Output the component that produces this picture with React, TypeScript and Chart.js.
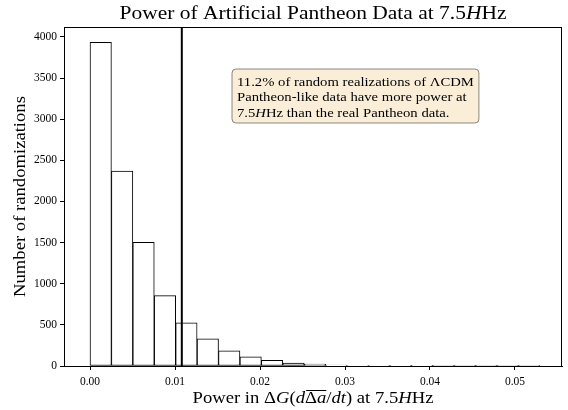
import React, { useEffect, useRef } from "react";
import { Chart, registerables } from "chart.js";

Chart.register(...registerables);

// ---- data ----
const binStart = 0;
const binWidth = 0.00252;
const counts = [3934, 2370, 1502, 855, 525, 330, 185, 112, 68, 37, 22, 11, 6, 4, 3, 2, 1, 1, 1, 1, 1];
const xTicks = [0, 0.01, 0.02, 0.03, 0.04, 0.05];
const yTicks = [0, 500, 1000, 1500, 2000, 2500, 3000, 3500, 4000];
const realPower = 0.0108;
const xRange = [-0.00306, 0.05553];
const yRange = [0, 4121];

const titleParts = [
  { t: "Power of Artificial Pantheon Data at 7.5" },
  { t: "H", i: true },
  { t: "Hz" },
];
const xLabelParts = [
  { t: "Power in \u0394" },
  { t: "G", i: true },
  { t: "(" },
  { t: "d", i: true },
  { t: "\u0394", o: true },
  { t: "a", i: true, o: true },
  { t: "/" },
  { t: "dt", i: true },
  { t: ")" },
  { t: " at 7.5" },
  { t: "H", i: true },
  { t: "Hz" },
];
const yLabel = "Number of randomizations";
const noteLines = [
  [{ t: "11.2% of random realizations of \u039BCDM" }],
  [{ t: "Pantheon-like data have more power at" }],
  [{ t: "7.5" }, { t: "H", i: true }, { t: "Hz than the real Pantheon data." }],
];

const FAMILY = "'Liberation Serif', 'DejaVu Serif', serif";
const HS = 1.13; // horizontal stretch to mimic Computer Modern widths

type Part = { t: string; i?: boolean; o?: boolean };

function font(size: number, italic?: boolean) {
  return `${italic ? "italic " : ""}${size}px ${FAMILY}`;
}

function partsWidth(ctx: CanvasRenderingContext2D, parts: Part[], size: number) {
  let w = 0;
  for (const p of parts) {
    ctx.font = font(size, p.i);
    w += ctx.measureText(p.t).width;
  }
  return w * HS;
}

function drawParts(
  ctx: CanvasRenderingContext2D,
  parts: Part[],
  x: number,
  y: number,
  size: number,
  align: "center" | "left"
) {
  const total = partsWidth(ctx, parts, size);
  const x0 = align === "center" ? x - total / 2 : x;
  ctx.save();
  ctx.translate(x0, y);
  ctx.scale(HS, 1);
  ctx.textAlign = "left";
  ctx.textBaseline = "alphabetic";
  ctx.fillStyle = "#000";
  let cx = 0;
  let overStart: number | null = null;
  let overEnd = 0;
  for (const p of parts) {
    ctx.font = font(size, p.i);
    const w = ctx.measureText(p.t).width;
    ctx.fillText(p.t, cx, 0);
    if (p.o) {
      if (overStart === null) overStart = cx;
      overEnd = cx + w;
    }
    cx += w;
  }
  if (overStart !== null) {
    ctx.beginPath();
    ctx.strokeStyle = "#000";
    ctx.lineWidth = 1;
    const oy = Math.round(-size * 0.8) + 0.5;
    ctx.moveTo(overStart + 1, oy);
    ctx.lineTo(overEnd, oy);
    ctx.stroke();
  }
  ctx.restore();
}

const decorPlugin = {
  id: "decor",
  afterDatasetsDraw(chart: any) {
    const ctx: CanvasRenderingContext2D = chart.ctx;
    const { left, right, top, bottom } = chart.chartArea;
    const xs = chart.scales.x;
    const px = xs.getPixelForValue(realPower);
    ctx.save();
    ctx.beginPath();
    ctx.strokeStyle = "#000";
    ctx.lineWidth = 2;
    ctx.moveTo(px, top);
    ctx.lineTo(px, bottom);
    ctx.stroke();
    ctx.beginPath();
    ctx.lineWidth = 1;
    ctx.strokeRect(left + 0.5, top + 0.5, right - left - 1, bottom - top);
    ctx.restore();
  },
  afterDraw(chart: any) {
    const ctx: CanvasRenderingContext2D = chart.ctx;
    const { left, right, top, bottom } = chart.chartArea;
    ctx.save();
    drawParts(ctx, titleParts, (left + right) / 2, 19, 19, "center");
    drawParts(ctx, xLabelParts, (left + right) / 2, 403, 16.5, "center");
    ctx.save();
    ctx.translate(25, (top + bottom) / 2);
    ctx.rotate(-Math.PI / 2);
    drawParts(ctx, [{ t: yLabel }], 0, 0, 16.5, "center");
    ctx.restore();
    // annotation box
    const fs = 13;
    const lh = fs * 1.2;
    const pad = 5;
    const bx = 232;
    const by = 69;
    let maxW = 0;
    for (const ln of noteLines) maxW = Math.max(maxW, partsWidth(ctx, ln, fs));
    const bw = maxW + pad * 2;
    const bh = 54;
    ctx.beginPath();
    const r = 4;
    ctx.moveTo(bx + r, by);
    ctx.arcTo(bx + bw, by, bx + bw, by + bh, r);
    ctx.arcTo(bx + bw, by + bh, bx, by + bh, r);
    ctx.arcTo(bx, by + bh, bx, by, r);
    ctx.arcTo(bx, by, bx + bw, by, r);
    ctx.closePath();
    ctx.fillStyle = "rgba(245, 222, 179, 0.5)";
    ctx.fill();
    ctx.strokeStyle = "rgba(0,0,0,0.45)";
    ctx.lineWidth = 1;
    ctx.stroke();
    noteLines.forEach((ln, k) => {
      drawParts(ctx, ln, bx + pad, by + pad + fs * 0.9 + k * lh, fs, "left");
    });
    ctx.restore();
  },
};

export default function App() {
  const ref = useRef<HTMLCanvasElement | null>(null);
  useEffect(() => {
    if (!ref.current) return;
    const data = counts.map((c, i) => ({ x: binStart + (i + 0.5) * binWidth, y: c }));
    const tickFont = { family: FAMILY, size: 11.5 };
    const chart = new Chart(ref.current, {
      type: "bar",
      data: {
        datasets: [
          {
            data,
            backgroundColor: "#ffffff",
            borderColor: "#000000",
            borderWidth: 1,
            borderSkipped: false,
            barPercentage: 1,
            categoryPercentage: 1,
          } as any,
        ],
      },
      options: {
        animation: false,
        responsive: true,
        maintainAspectRatio: false,
        layout: { padding: { top: 27, right: 6, left: 0, bottom: 0 } },
        plugins: { legend: { display: false }, tooltip: { enabled: false }, title: { display: false } },
        scales: {
          x: {
            type: "linear",
            offset: false,
            min: xRange[0],
            max: xRange[1],
            afterBuildTicks: (s: any) => {
              s.ticks = xTicks.map((v) => ({ value: v }));
            },
            afterFit: (s: any) => {
              s.height = 44;
            },
            ticks: {
              autoSkip: false,
              maxRotation: 0,
              color: "#000",
              font: tickFont,
              padding: 5,
              callback: (v: any) => Number(v).toFixed(2),
            },
            grid: { offset: false, drawOnChartArea: false, tickLength: 4, tickColor: "#000" },
            border: { color: "#000", width: 1 },
          },
          y: {
            type: "linear",
            min: yRange[0],
            max: yRange[1],
            afterBuildTicks: (s: any) => {
              s.ticks = yTicks.map((v) => ({ value: v }));
            },
            afterFit: (s: any) => {
              s.width = 64;
            },
            ticks: {
              color: "#000",
              font: tickFont,
              padding: 3,
              callback: (v: any) => String(v),
            },
            grid: { drawOnChartArea: false, tickLength: 4, tickColor: "#000" },
            border: { color: "#000", width: 1 },
          },
        },
      },
      plugins: [decorPlugin],
    });
    return () => chart.destroy();
  }, []);
  return (
    <div style={{ position: "fixed", left: 0, top: 0, width: 568, height: 410, background: "#fff" }}>
      <canvas ref={ref} />
    </div>
  );
}
